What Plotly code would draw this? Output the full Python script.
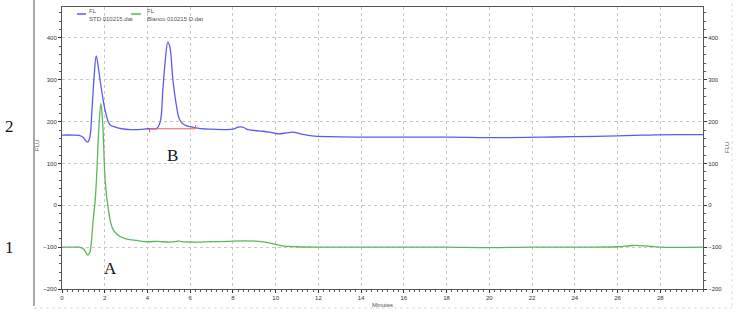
import plotly.graph_objects as go

# ---- data ----
std_time = [0, 0.5, 0.8, 1.0, 1.1, 1.2, 1.3, 1.4, 1.5, 1.6, 1.7, 1.78, 1.9, 2.05, 2.24, 2.5, 2.8, 3.2,
            3.6, 4.0, 4.2, 4.44, 4.6, 4.72, 4.85, 4.95, 5.05, 5.19, 5.35, 5.5, 5.7, 6.0, 6.4, 7.0,
            7.6, 8.0, 8.25, 8.45, 8.7, 9.2, 9.7, 10.1, 10.5, 10.8, 11.2, 11.7, 12.5, 14, 16, 18,
            19.5, 21, 22.5, 24, 26, 27.5, 28.9, 30]
std_value = [168, 168, 167, 162, 155, 151, 162, 225, 305, 357, 330, 300, 260, 220, 193, 187, 183, 181,
             181, 183, 183, 184, 200, 276, 355, 390, 378, 300, 240, 205, 193, 188, 184, 182,
             181, 182, 187, 187, 181, 178, 175, 171, 173, 175, 170, 166, 164, 163, 163, 163,
             162, 162, 163, 164, 166, 168, 169, 169]

blank_time = [0, 0.5, 0.8, 1.0, 1.1, 1.2, 1.3, 1.38, 1.45, 1.55, 1.63, 1.72, 1.82, 1.9, 2.0, 2.08,
              2.15, 2.25, 2.38, 2.55, 2.7, 3.0, 3.5, 4.0, 4.5, 5.0, 5.3, 5.45, 5.6, 6.2, 7.0, 7.8,
              8.5, 9.2, 9.7, 10.3, 11.0, 12.0, 14, 16, 18, 20, 22, 24, 26, 26.7, 27.3, 28, 30]
blank_value = [-100, -100, -100, -104, -111, -119, -113, -85, -40, 10, 78, 180, 243, 200, 78, 25,
               -2, -35, -57, -68, -74, -80, -84, -87, -86, -88, -87, -85, -87, -88, -87, -86,
               -85, -86, -90, -97, -99, -100, -100, -100, -100, -101, -100, -100, -99, -96, -97, -100, -100]

baseline_time = [4.1, 6.25]
baseline_value = [183, 183]

y_ticks = [-200, -100, 0, 100, 200, 300, 400]
x_ticks = list(range(0, 30, 2))

STD_COLOR = "#5b5bf2"
BLK_COLOR = "#5db45d"
RED = "#ff5a5a"

W, H = 737, 321
L, R, T, B = 62, 703, 7, 289


def px(x):
    return (x - L) / (R - L)


def py(y):
    return (B - y) / (B - T)


fig = go.Figure()
fig.add_trace(go.Scatter(x=blank_time, y=blank_value, mode="lines", name="Blanco 010215 D.dat",
                         line=dict(color=BLK_COLOR, width=1.3), line_shape="spline"))
fig.add_trace(go.Scatter(x=std_time, y=std_value, mode="lines", name="STD 010215.dat",
                         line=dict(color=STD_COLOR, width=1.3), line_shape="spline"))
fig.add_trace(go.Scatter(x=baseline_time, y=baseline_value, mode="lines", showlegend=False,
                         line=dict(color=RED, width=1)))
# invisible trace for the right-hand axis
fig.add_trace(go.Scatter(x=[0], y=[0], yaxis="y2", mode="markers", showlegend=False,
                         marker=dict(opacity=0), hoverinfo="skip"))

tickfont = dict(family="Liberation Sans", size=6, color="#333333")
grid = dict(showgrid=True, gridcolor="#c8c8c8", griddash="dot", gridwidth=1)

fig.update_layout(
    width=W, height=H,
    margin=dict(l=L, r=W - R, t=T, b=H - B, pad=0),
    paper_bgcolor="white", plot_bgcolor="white",
    showlegend=False,
    xaxis=dict(range=[0, 30], tickvals=x_ticks, ticks="outside", ticklen=3, tickcolor="#333",
               showline=True, linecolor="#555", linewidth=1, mirror=True, zeroline=False,
               tickfont=tickfont, ticklabelstandoff=0,
               minor=dict(ticks="outside", ticklen=2, dtick=0.25, tickcolor="#555", showgrid=False),
               **grid),
    yaxis=dict(range=[-200, 474], tickvals=y_ticks, ticks="outside", ticklen=3, tickcolor="#333",
               showline=True, linecolor="#555", linewidth=1, zeroline=False, tickfont=tickfont,
               minor=dict(ticks="outside", ticklen=2, dtick=20, tickcolor="#555", showgrid=False),
               **grid),
    yaxis2=dict(range=[-200, 474], tickvals=y_ticks, ticks="outside", ticklen=3, tickcolor="#333",
                overlaying="y", side="right", showline=True, linecolor="#555", linewidth=1,
                zeroline=False, showgrid=False, tickfont=tickfont,
                minor=dict(ticks="outside", ticklen=2, dtick=20, tickcolor="#555")),
)

# red end markers of the integration baseline
fig.add_shape(type="line", x0=4.1, x1=4.1, y0=183, y1=174, line=dict(color=RED, width=1))
fig.add_shape(type="line", x0=6.25, x1=6.25, y0=183, y1=192, line=dict(color=RED, width=1))

# outer frame
fig.add_shape(type="line", xref="paper", yref="paper", x0=px(34), x1=px(34), y0=py(0), y1=py(306),
              line=dict(color="#a8a8a8", width=2))
fig.add_shape(type="line", xref="paper", yref="paper", x0=px(34), x1=px(732), y0=py(308), y1=py(308),
              line=dict(color="#dcdccc", width=1, dash="dot"))
fig.add_shape(type="line", xref="paper", yref="paper", x0=px(732), x1=px(732), y0=py(3), y1=py(308),
              line=dict(color="#dcdccc", width=1, dash="dot"))

# legend drawn by hand
small = dict(family="Liberation Sans", size=6, color="#555555")
fig.add_shape(type="line", xref="paper", yref="paper", x0=px(77), x1=px(86), y0=py(14), y1=py(14),
              line=dict(color=STD_COLOR, width=1.5))
fig.add_shape(type="line", xref="paper", yref="paper", x0=px(131), x1=px(141), y0=py(14), y1=py(14),
              line=dict(color=BLK_COLOR, width=1.5))
fig.add_annotation(xref="paper", yref="paper", x=px(87), y=py(15), text="FL<br>STD 010215.dat",
                   showarrow=False, xanchor="left", yanchor="middle", align="left", font=small)
fig.add_annotation(xref="paper", yref="paper", x=px(145), y=py(15), text="FL<br>Blanco 010215 D.dat",
                   showarrow=False, xanchor="left", yanchor="middle", align="left", font=small)


def centered(x, y, text, font, angle=0):
    fig.add_annotation(xref="paper", yref="paper", x=px(x), y=py(y), text=text, textangle=angle,
                       showarrow=False, xanchor="center", yanchor="middle", font=font)


# axis titles
centered(37, 146, "FLU", small, -90)
centered(727, 148, "FLU", small, -90)
centered(382, 305, "Minutes", small)

# big labels
big = dict(family="Liberation Serif", size=17, color="#111111")
centered(9, 127, "2", big)
centered(9, 247, "1", big)
centered(110, 268, "A", big)
centered(172, 155, "B", big)

fig.write_html("out.html", post_script="document.body.style.margin='0';",
               config={"displayModeBar": False})
